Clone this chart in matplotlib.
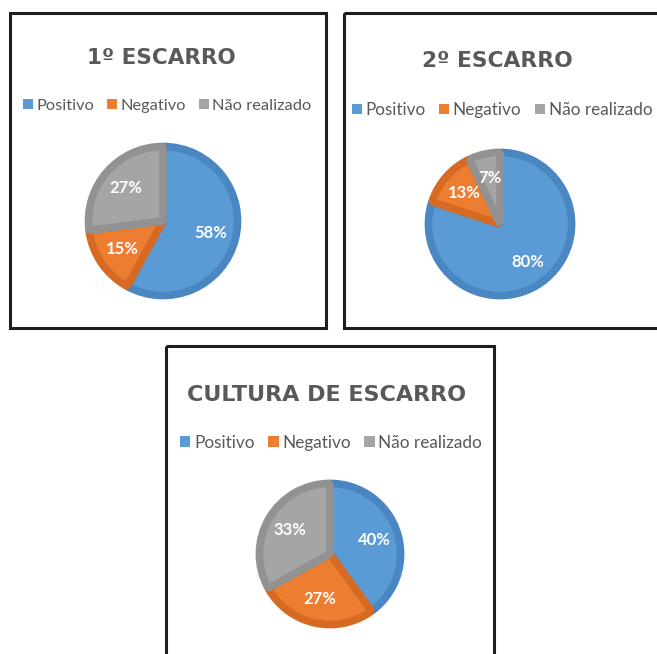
import matplotlib
matplotlib.use("Agg")
import matplotlib.pyplot as plt
from matplotlib.patches import Rectangle, Patch

W, H = 657, 654
FONT = ["Lato", "DejaVu Sans"]
TITLE_FONT = ["DejaVu Sans"]

categories = ["Positivo", "Negativo", "Não realizado"]
titles = ["1º ESCARRO", "2º ESCARRO", "CULTURA DE ESCARRO"]
escarro1 = [58, 15, 27]
escarro2 = [80, 13, 7]
cultura = [40, 27, 33]
series = [escarro1, escarro2, cultura]

colors = ["#5B9BD5", "#ED7D31", "#A5A5A5"]
edge_colors = ["#4A86C2", "#D66A22", "#929292"]
text_gray = "#595959"

fig = plt.figure(figsize=(W / 100, H / 100), dpi=100)
bg = fig.add_axes([0, 0, 1, 1])
bg.set_xlim(0, W)
bg.set_ylim(H, 0)
bg.axis("off")

panels = [
    dict(box=(10, 13, 326, 328), title_xy=(161, 58), title_size=15.5, legend_y=106,
         legend_cx=167, legend_size=11.8, center=(163, 221), r=76),
    dict(box=(344, 13, 670, 328), title_xy=(497, 61), title_size=15.7, legend_y=110,
         legend_cx=502, legend_size=12.3, center=(500, 224), r=73),
    dict(box=(166, 346, 494, 670), title_xy=(327, 395), title_size=16, legend_y=443,
         legend_cx=331, legend_size=12.4, center=(330, 554), r=72),
]

for p, vals, title in zip(panels, series, titles):
    x0, y0, x1, y1 = p["box"]
    bg.add_patch(Rectangle((x0, y0), x1 - x0, y1 - y0, fill=False,
                           edgecolor="#1e1e1e", linewidth=2.2, zorder=5))
    bg.text(p["title_xy"][0], p["title_xy"][1], title, ha="center", va="center",
            fontsize=p["title_size"], fontweight="bold", color=text_gray, family=TITLE_FONT)

    cx, cy = p["center"]
    r = p["r"]
    ax = fig.add_axes([(cx - r) / W, (H - (cy + r)) / H, 2 * r / W, 2 * r / H])
    wedges, texts, autotexts = ax.pie(
        vals, colors=colors, startangle=90, counterclock=False,
        autopct="%1.0f%%", pctdistance=0.66, radius=1.0,
        textprops=dict(color="white", fontsize=12, fontweight="bold", family=FONT),
    )
    for w, ec in zip(wedges, edge_colors):
        w.set_edgecolor(ec)
        w.set_linewidth(5.5)
        w.set_joinstyle("bevel")
        w.set_clip_path(w)
    ax.set_xlim(-1.02, 1.02)
    ax.set_ylim(-1.02, 1.02)
    ax.axis("off")

    handles = [Patch(facecolor=c, edgecolor="none") for c in colors]
    leg = fig.legend(handles, categories, loc="center",
                     bbox_to_anchor=(p["legend_cx"] / W, 1 - p["legend_y"] / H),
                     ncol=3, frameon=False, handlelength=0.6, handleheight=0.6,
                     handletextpad=0.2, columnspacing=0.8, borderaxespad=0,
                     prop=dict(family=FONT, size=p["legend_size"]))
    for t in leg.get_texts():
        t.set_color(text_gray)

fig.savefig("out.png", dpi=100)
